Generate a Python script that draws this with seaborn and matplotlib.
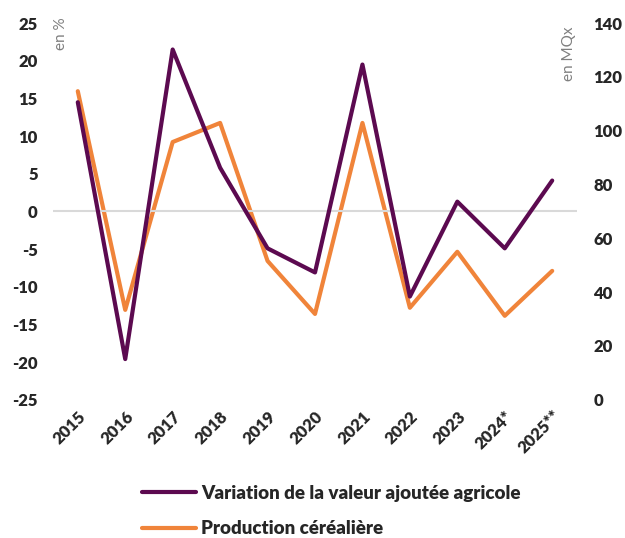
import numpy as np
import pandas as pd
import seaborn as sns
import matplotlib.pyplot as plt
from matplotlib.lines import Line2D

sns.set_style('white')
plt.rcParams['font.family'] = ['Lato', 'DejaVu Sans']
plt.rcParams['axes.unicode_minus'] = False

# data
years = ['2015', '2016', '2017', '2018', '2019', '2020', '2021', '2022', '2023', '2024*', '2025**']
valeur_ajoutee = [14.5, -19.6, 21.5, 5.8, -4.9, -8.1, 19.5, -11.3, 1.3, -4.9, 4.1]
production = [114.7, 33.4, 95.8, 102.9, 51.6, 31.9, 102.9, 34.2, 55.0, 31.2, 47.9]

purple = '#5c0a50'
orange = '#f0843a'

df = pd.DataFrame({'annee': years, 'va': valeur_ajoutee, 'prod': production})
df['pos'] = np.arange(len(df))

fig = plt.figure(figsize=(6.25, 5.38), dpi=100)
ax = fig.add_axes([0.085, 0.257, 0.838, 0.7])
ax2 = ax.twinx()

ax.axhline(0, color='#d9d9d9', lw=1.5, zorder=0)
sns.lineplot(data=df, x='pos', y='va', ax=ax, color=purple, lw=3, zorder=3)
sns.lineplot(data=df, x='pos', y='prod', ax=ax2, color=orange, lw=3, zorder=2)
# keep purple line on top
ax.set_zorder(ax2.get_zorder() + 1)
ax.patch.set_visible(False)

ax.set_xlim(-0.52, len(years) - 0.48)
ax.set_ylim(-25, 25)
ax.set_yticks(range(-25, 26, 5))
ax2.set_ylim(0, 140)
ax2.set_yticks(range(0, 141, 20))

ax.set_xticks(df['pos'])
ax.set_xticklabels(years, rotation=45, ha='right', rotation_mode='anchor')
for a in (ax, ax2):
    a.tick_params(length=0, labelsize=12)
    for lab in a.get_xticklabels() + a.get_yticklabels():
        lab.set_fontweight('heavy')
    for s in a.spines.values():
        s.set_visible(False)
ax.tick_params(axis='y', pad=11)
ax.tick_params(axis='x', pad=6)
ax2.tick_params(axis='y', pad=12)
ax.set_xlabel('')
ax.set_ylabel('')
ax2.set_ylabel('')

ax.text(0.015, 1.015, 'en %', transform=ax.transAxes, rotation=90, color='#7f7f7f',
        fontsize=11, ha='center', va='top')
ax.text(0.985, 0.99, 'en MQx', transform=ax.transAxes, rotation=90, color='#7f7f7f',
        fontsize=11, ha='center', va='top')

handles = [Line2D([], [], color=purple, lw=3),
           Line2D([], [], color=orange, lw=3)]
labels = ['Variation de la valeur ajoutée agricole', 'Production céréalière']
fig.legend(handles, labels, loc='upper left', bbox_to_anchor=(0.215, 0.113), frameon=False,
           prop={'weight': 'heavy', 'size': 13.5}, handlelength=2.9, handletextpad=0.25,
           labelspacing=1.0, borderaxespad=0)

fig.savefig('out.png', dpi=100)
